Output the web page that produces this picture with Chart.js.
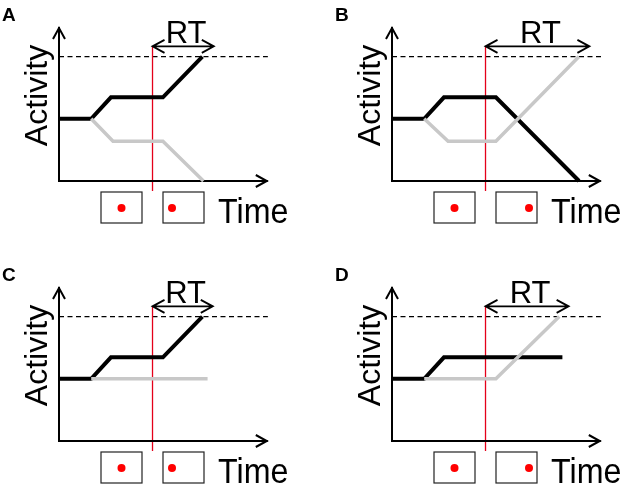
<!DOCTYPE html>
<html>
<head>
<meta charset="utf-8">
<script src="https://cdn.jsdelivr.net/npm/chart.js@4/dist/chart.umd.min.js"></script>
<style>
  html, body { margin: 0; padding: 0; background: #fff; }
  body { width: 625px; height: 489px; position: relative; overflow: hidden; }
  canvas { position: absolute; }
</style>
</head>
<body>
<canvas id="cA" width="292" height="229" style="left:0px;top:0px"></canvas>
<canvas id="cB" width="292" height="229" style="left:333px;top:0px"></canvas>
<canvas id="cC" width="292" height="229" style="left:0px;top:260px"></canvas>
<canvas id="cD" width="292" height="229" style="left:333px;top:260px"></canvas>
<script>
// ---- data (time units, activity units) ----
const panelLabels = ['A', 'B', 'C', 'D'];
const blackA = [{x:0,y:6.1},{x:3.1,y:6.1},{x:5.0,y:8.2},{x:10.0,y:8.2},{x:13.8,y:12.2}];
const grayA  = [{x:3.1,y:6.1},{x:5.2,y:3.9},{x:10.0,y:3.9},{x:13.9,y:0}];
const blackB = [{x:0,y:6.1},{x:3.1,y:6.1},{x:5.0,y:8.2},{x:10.0,y:8.2},{x:18.0,y:0}];
const grayB  = [{x:3.1,y:6.1},{x:5.4,y:3.9},{x:10.0,y:3.9},{x:18.0,y:12.2}];
const blackC = [{x:0,y:6.1},{x:3.1,y:6.1},{x:5.0,y:8.2},{x:10.0,y:8.2},{x:13.8,y:12.2}];
const grayC  = [{x:3.1,y:6.1},{x:14.3,y:6.1}];
const blackD = [{x:0,y:6.1},{x:3.1,y:6.1},{x:5.0,y:8.2},{x:16.4,y:8.2}];
const grayD  = [{x:3.1,y:6.1},{x:10.0,y:6.1},{x:16.1,y:12.2}];
const blackSeries = [blackA, blackB, blackC, blackD];
const graySeries  = [grayA, grayB, grayC, grayD];
const threshold = 12.2;
const thresholdEnd = [20.1, 20.4, 20.1, 20.1];
const stimulusChange = 9.0;
const rtLevel = 13.2;
const rtEnd = [14.9, 19.0, 14.8, 17.0];
const secondDotSide = ['left', 'right', 'left', 'right'];
const xAxisEnd = 20.0;

const FONT = "'Liberation Sans', Arial, Helvetica, sans-serif";

function decorPlugin(idx) {
  return {
    id: 'decor' + idx,
    beforeDatasetsDraw(chart) {
      const ctx = chart.ctx, a = chart.chartArea;
      const xs = chart.scales.x, ys = chart.scales.y;
      ctx.save();
      // threshold dashed line
      const ty = ys.getPixelForValue(threshold);
      ctx.strokeStyle = '#000';
      ctx.lineWidth = 1.2;
      ctx.setLineDash([5, 3.5]);
      ctx.beginPath();
      ctx.moveTo(a.left, ty);
      ctx.lineTo(xs.getPixelForValue(thresholdEnd[idx]), ty);
      ctx.stroke();
      ctx.setLineDash([]);
      // red stimulus line
      const rx = xs.getPixelForValue(stimulusChange);
      const ry = ys.getPixelForValue(rtLevel);
      ctx.strokeStyle = '#e4001a';
      ctx.lineWidth = 1.3;
      ctx.beginPath();
      ctx.moveTo(rx, ry);
      ctx.lineTo(rx, a.bottom + 10);
      ctx.stroke();
      // axes
      ctx.strokeStyle = '#000';
      ctx.lineWidth = 2;
      ctx.lineCap = 'square';
      const xt = xs.getPixelForValue(xAxisEnd);
      ctx.beginPath();
      ctx.moveTo(a.left, a.top);
      ctx.lineTo(a.left, a.bottom);
      ctx.lineTo(xt, a.bottom);
      ctx.stroke();
      ctx.lineCap = 'butt';
      ctx.lineJoin = 'miter';
      ctx.beginPath();
      ctx.moveTo(a.left - 6, a.top + 11);
      ctx.lineTo(a.left, a.top);
      ctx.lineTo(a.left + 6, a.top + 11);
      ctx.moveTo(xt - 11, a.bottom - 6);
      ctx.lineTo(xt, a.bottom);
      ctx.lineTo(xt - 11, a.bottom + 6);
      ctx.stroke();
      // RT arrow
      const rex = xs.getPixelForValue(rtEnd[idx]);
      ctx.lineWidth = 1.8;
      ctx.beginPath();
      ctx.moveTo(rx, ry);
      ctx.lineTo(rex, ry);
      ctx.moveTo(rx + 12, ry - 6.5);
      ctx.lineTo(rx, ry);
      ctx.lineTo(rx + 12, ry + 6.5);
      ctx.moveTo(rex - 12, ry - 6.5);
      ctx.lineTo(rex, ry);
      ctx.lineTo(rex - 12, ry + 6.5);
      ctx.stroke();
      ctx.restore();
    },
    afterDraw(chart) {
      const ctx = chart.ctx, a = chart.chartArea;
      const xs = chart.scales.x, ys = chart.scales.y;
      ctx.save();
      ctx.fillStyle = '#000';
      // panel letter
      ctx.font = 'bold 19px ' + FONT;
      ctx.textAlign = 'left';
      ctx.textBaseline = 'alphabetic';
      ctx.fillText(panelLabels[idx], 2, 21);
      // RT label
      const rx = xs.getPixelForValue(stimulusChange);
      const rex = xs.getPixelForValue(rtEnd[idx]);
      const ry = ys.getPixelForValue(rtLevel);
      ctx.font = '31px ' + FONT;
      ctx.textAlign = 'center';
      ctx.fillText('RT', (rx + rex) / 2 + 3, ry - 3);
      // Activity
      ctx.save();
      ctx.translate(a.left - 12, (a.top + a.bottom) / 2 - 9);
      ctx.rotate(-Math.PI / 2);
      ctx.font = '32px ' + FONT;
      ctx.textAlign = 'center';
      ctx.fillText('Activity', 0, 0);
      ctx.restore();
      // Time
      ctx.save();
      ctx.translate(a.left + 159, a.bottom + 42);
      ctx.scale(0.92, 1);
      ctx.font = '35px ' + FONT;
      ctx.textAlign = 'left';
      ctx.fillText('Time', 0, 0);
      ctx.restore();
      // stimulus boxes
      const by = a.bottom + 11, bh = 31, bw = 41;
      const b1 = a.left + 42, b2 = a.left + 104;
      ctx.strokeStyle = '#222';
      ctx.lineWidth = 1.2;
      ctx.strokeRect(b1, by, bw, bh);
      ctx.strokeRect(b2, by, bw, bh);
      ctx.fillStyle = '#ff0000';
      ctx.beginPath();
      ctx.arc(b1 + bw / 2, by + 16, 4, 0, Math.PI * 2);
      ctx.fill();
      const d2 = secondDotSide[idx] === 'left' ? b2 + 9 : b2 + bw - 8;
      ctx.beginPath();
      ctx.arc(d2, by + 16, 4, 0, Math.PI * 2);
      ctx.fill();
      ctx.restore();
    }
  };
}

['cA', 'cB', 'cC', 'cD'].forEach((id, i) => {
  new Chart(document.getElementById(id), {
    type: 'line',
    data: {
      datasets: [
        { label: 'other', data: graySeries[i], borderColor: '#c8c8c8', borderWidth: 3.5 },
        { label: 'chosen', data: blackSeries[i], borderColor: '#000000', borderWidth: 4 }
      ]
    },
    options: {
      responsive: false,
      animation: false,
      events: [],
      layout: { padding: { left: 59, top: 28, right: 20, bottom: 48 } },
      scales: {
        x: { type: 'linear', min: 0, max: 20.5, display: false },
        y: { type: 'linear', min: 0, max: 15, display: false }
      },
      elements: {
        point: { radius: 0, hoverRadius: 0 },
        line: { tension: 0, fill: false, borderJoinStyle: 'miter', borderCapStyle: 'butt' }
      },
      datasets: { line: { clip: false } },
      plugins: { legend: { display: false }, tooltip: { enabled: false }, title: { display: false } }
    },
    plugins: [decorPlugin(i)]
  });
});
</script>
</body>
</html>
